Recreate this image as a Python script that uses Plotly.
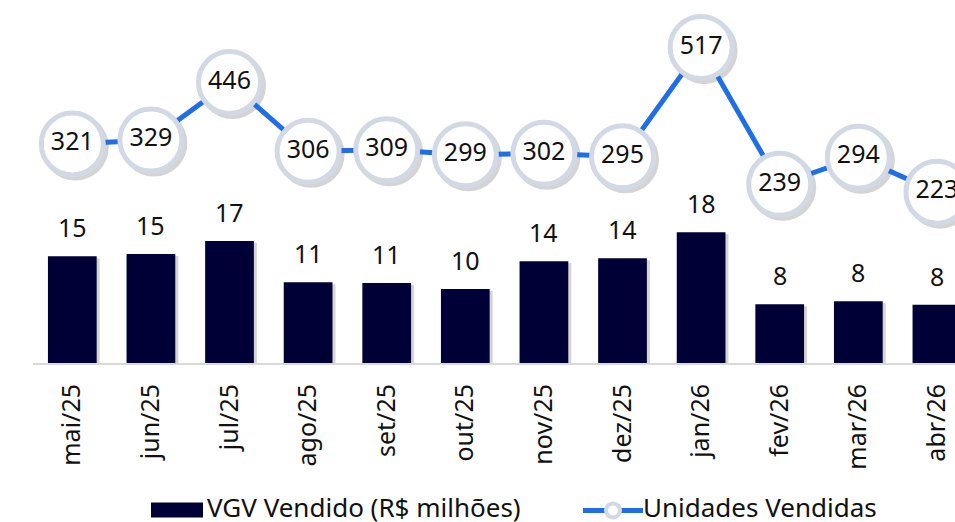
import plotly.graph_objects as go

months = ["mai/25", "jun/25", "jul/25", "ago/25", "set/25", "out/25",
          "nov/25", "dez/25", "jan/26", "fev/26", "mar/26", "abr/26"]
vgv = [14.7, 15.0, 16.8, 11.1, 11.0, 10.2, 14.0, 14.4, 18.0, 8.1, 8.5, 8.0]
unidades = [321, 329, 446, 306, 309, 299, 302, 295, 517, 239, 294, 223]
series_names = ["VGV Vendido (R$ milhões)", "Unidades Vendidas"]

FONT = "Noto Sans, Open Sans, DejaVu Sans, sans-serif"
BAR_COLOR = "#000036"
LINE_COLOR = "#1f6ee8"
RING_COLOR = "#d2d9e5"
TEXT_COLOR = "#111111"
SHADOW = "rgba(60,60,60,0.22)"

W, H = 955, 522
ML, MT, MB = 33, 0, 159.3
plot_w = W - ML
plot_h = H - MT - MB

X_RANGE = [-0.5, 11.23]
Y1_RANGE = [0, 49.96]
Y2_RANGE = [-124.3, 613.6]
BAR_W = 0.62

px_per_x = plot_w / (X_RANGE[1] - X_RANGE[0])
px_per_y1 = plot_h / (Y1_RANGE[1] - Y1_RANGE[0])
px_per_y2 = plot_h / (Y2_RANGE[1] - Y2_RANGE[0])


def px_x(x):  # window px -> paper
    return (x - ML) / plot_w


def px_y(y):  # window px -> paper
    return (H - MB - y) / plot_h


xs = list(range(len(months)))
sdx = 3 / px_per_x

fig = go.Figure()
# soft drop shadow of the bars
fig.add_trace(go.Bar(
    x=xs, y=[v + 2 / px_per_y1 for v in vgv],
    base=-4 / px_per_y1,
    width=BAR_W, offset=-BAR_W / 2 + sdx,
    marker=dict(color=SHADOW, line=dict(width=0)),
    yaxis="y", hoverinfo="skip", showlegend=False,
))
fig.add_trace(go.Bar(
    x=xs, y=vgv, name=series_names[0],
    marker=dict(color=BAR_COLOR, line=dict(width=0)),
    width=BAR_W, offset=-BAR_W / 2, yaxis="y", hoverinfo="skip", showlegend=False,
))
# shadow of the circles
fig.add_trace(go.Scatter(
    x=[x + sdx for x in xs], y=[u - 3 / px_per_y2 for u in unidades], mode="markers",
    marker=dict(size=67, color=SHADOW, line=dict(width=0)),
    yaxis="y2", hoverinfo="skip", showlegend=False,
))
fig.add_trace(go.Scatter(
    x=xs, y=unidades, name=series_names[1], mode="lines+markers",
    line=dict(color=LINE_COLOR, width=5),
    marker=dict(size=62, color="white", line=dict(color=RING_COLOR, width=5)),
    yaxis="y2", hoverinfo="skip", showlegend=False,
))
fig.add_trace(go.Scatter(
    x=xs, y=unidades, mode="text", text=[str(v) for v in unidades],
    textposition="middle center", textfont=dict(size=25, color=TEXT_COLOR, family=FONT),
    yaxis="y2", showlegend=False, hoverinfo="skip",
))

for x, v in zip(xs, vgv):
    fig.add_annotation(x=x, y=v, xref="x", yref="y", text=f"{v:.0f}",
                       showarrow=False, yanchor="middle", yshift=29,
                       font=dict(size=25, color=TEXT_COLOR, family=FONT))

# custom legend
ly = 507
fig.add_shape(type="rect", xref="paper", yref="paper",
              x0=px_x(151), x1=px_x(203), y0=px_y(517), y1=px_y(502),
              fillcolor=BAR_COLOR, line=dict(width=0))
fig.add_annotation(xref="paper", yref="paper", x=px_x(205), y=px_y(ly),
                   xanchor="left", yanchor="middle", showarrow=False,
                   text=series_names[0], font=dict(size=26, color=TEXT_COLOR, family=FONT))
fig.add_shape(type="line", xref="paper", yref="paper",
              x0=px_x(583), x1=px_x(643), y0=px_y(510), y1=px_y(510),
              line=dict(color=LINE_COLOR, width=5))
fig.add_shape(type="circle", xref="paper", yref="paper",
              x0=px_x(606), x1=px_x(620), y0=px_y(517), y1=px_y(503),
              fillcolor="white", line=dict(color=RING_COLOR, width=4))
fig.add_annotation(xref="paper", yref="paper", x=px_x(641), y=px_y(ly),
                   xanchor="left", yanchor="middle", showarrow=False,
                   text=series_names[1], font=dict(size=26, color=TEXT_COLOR, family=FONT))

fig.update_layout(
    width=W, height=H,
    margin=dict(l=ML, r=0, t=MT, b=MB),
    paper_bgcolor="white", plot_bgcolor="white",
    font=dict(family=FONT, color=TEXT_COLOR),
    showlegend=False, barmode="overlay",
    xaxis=dict(range=X_RANGE, tickmode="array", tickvals=xs, ticktext=months,
               tickangle=-90, tickfont=dict(size=25, family=FONT, color=TEXT_COLOR),
               showline=True, linecolor="#d9d9d9", linewidth=2, automargin=False,
               showgrid=False, zeroline=False, ticks="", ticklabelstandoff=9),
    yaxis=dict(range=Y1_RANGE, visible=False, showgrid=False, zeroline=False),
    yaxis2=dict(range=Y2_RANGE, overlaying="y", visible=False,
                showgrid=False, zeroline=False),
)

fig.write_html("out.html",
               config={"displayModeBar": False, "staticPlot": True},
               post_script="document.body.style.margin='0';"
                           "document.body.style.overflow='hidden';")
